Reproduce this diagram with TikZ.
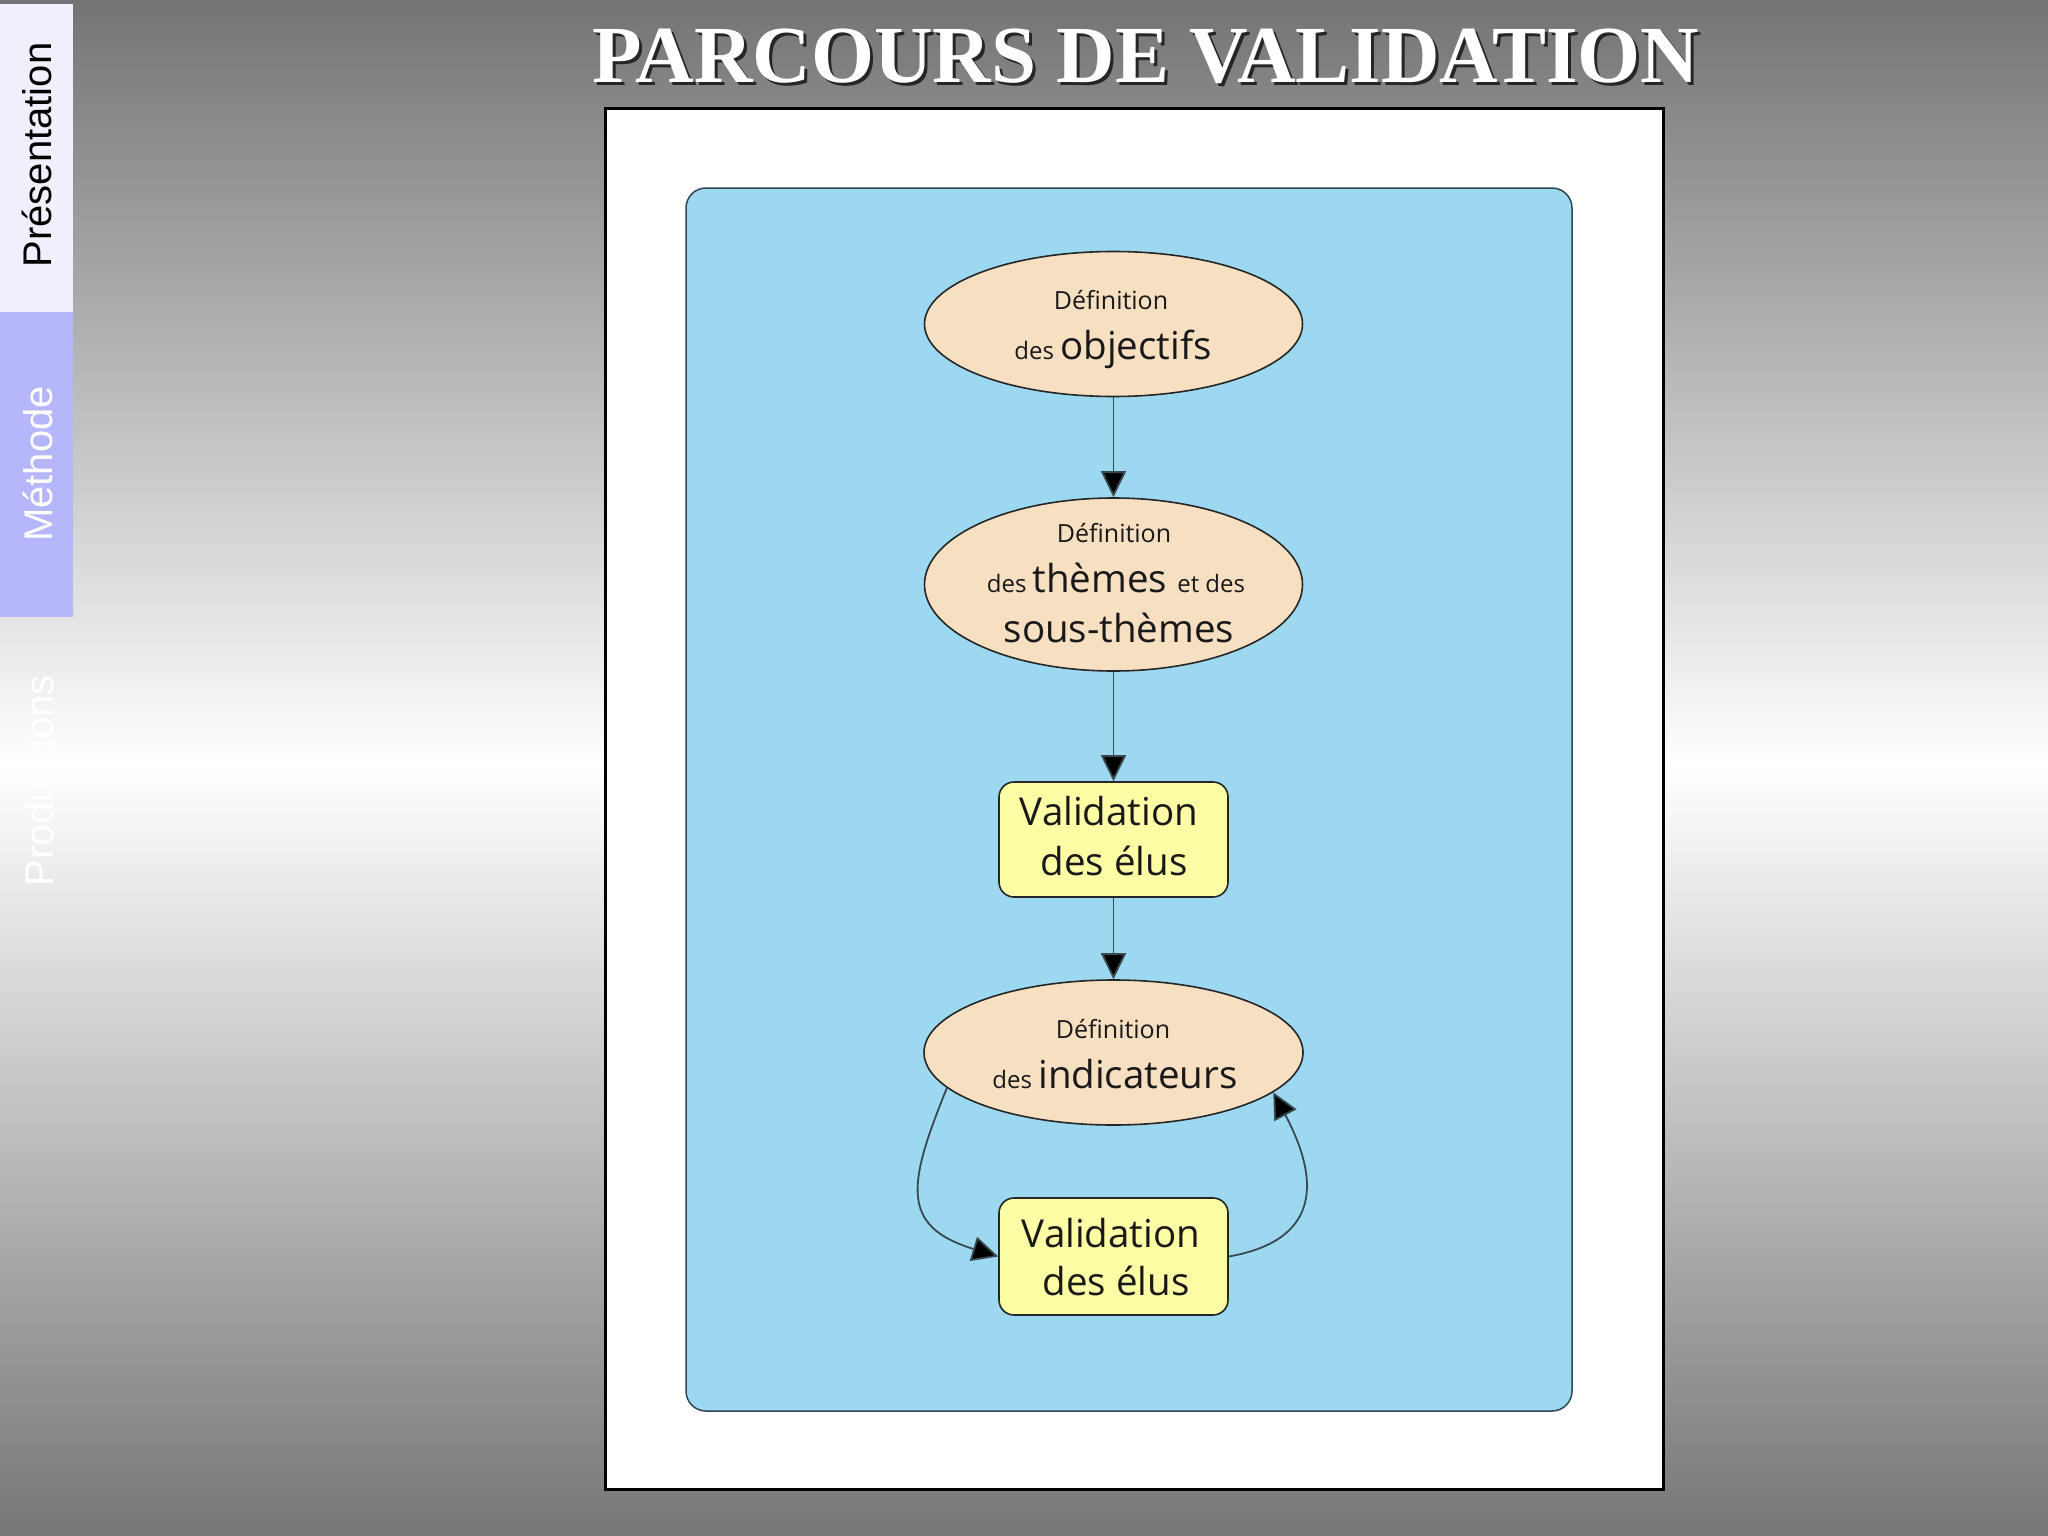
\documentclass[tikz,border=0pt]{standalone}
\usepackage{fontspec}
\usepackage{graphicx}
\setmainfont{Open Sans}
\newfontfamily\dgfont{Open Sans}
\newfontfamily\tabfont{Liberation Sans}
\newfontfamily\ttlfont{Liberation Serif}
\usetikzlibrary{arrows.meta,shapes.geometric}
\definecolor{bgtop}{HTML}{747474}
\definecolor{bgbot}{HTML}{767676}
\definecolor{tabA}{HTML}{F1EFFB}
\definecolor{tabB}{HTML}{B6B6FB}
\definecolor{panel}{HTML}{9CD9F1}
\definecolor{panelline}{HTML}{2E4653}
\definecolor{peach}{HTML}{F7DFC1}
\definecolor{lemon}{HTML}{FDFDA5}
\definecolor{conn}{HTML}{3A4850}
\newcommand{\dgbig}{\fontsize{38.5}{40}\selectfont}
\newcommand{\dgsmall}{\fontsize{24}{26}\selectfont}
\newcommand{\dgdef}{\fontsize{25}{27}\selectfont}
\tikzset{
  ovalbox/.style={ellipse, draw=black!85, line width=1.6pt, fill=peach, inner sep=0pt},
  valbox/.style={rectangle, rounded corners=15pt, draw=black!85, line width=1.6pt, fill=lemon, inner sep=0pt, minimum width=229pt},
  lbl/.style={anchor=base, inner sep=0pt, text=black!90, font=\dgfont},
  tabtext/.style={anchor=base, rotate=90, inner sep=0pt, font=\tabfont\fontsize{40}{40}\selectfont},
  ttl/.style={anchor=base, inner sep=0pt, font=\ttlfont\bfseries\fontsize{81}{81}\selectfont},
  arr/.style={draw=conn, line width=1.8pt, -{Triangle[length=26pt,width=25pt,fill=black]}},
}
\begin{document}
\begin{tikzpicture}[x=1pt,y=-1pt]
\useasboundingbox (0,0) rectangle (2048,1536);
% background
\shade[top color=bgtop, bottom color=white] (0,0) rectangle (2048,765);
\shade[top color=white, bottom color=bgbot] (0,765) rectangle (2048,1536);
% side tabs
\fill[tabA] (0,4) rectangle (73,312);
\fill[tabB] (0,312) rectangle (73,617);
\node[tabtext, text=black] (tpres) at (51,155) {Présentation};
\node[tabtext, text=white] (tmeth) at (52,464) {Méthode};
\node[tabtext, text=white] (tprod) at (53,781) {Productions};
% title
\node[ttl, text=black!85] (ttlshadow) at (1149,86) {PARCOURS DE VALIDATION};
\node[ttl, text=white] (ttl) at (1146,83) {PARCOURS DE VALIDATION};
% frame and panel
\draw[black, line width=3pt, fill=white] (605,109) rectangle (1663,1489);
\draw[panelline, line width=1.5pt, fill=panel, rounded corners=20pt] (686,188) rectangle (1572,1411);
% shapes
\node[ovalbox, minimum width=378pt, minimum height=145pt] (e1) at (1113.5,324) {};
\node[ovalbox, minimum width=378pt, minimum height=173pt] (e2) at (1113.5,584.5) {};
\node[valbox, minimum height=115pt] (b1) at (1113.5,839.5) {};
\node[ovalbox, minimum width=379pt, minimum height=145pt] (e3) at (1113.5,1052.5) {};
\node[valbox, minimum height=117pt] (b2) at (1113.5,1256.5) {};
% texts
\node[lbl] (e1a) at (1111,309) {\dgdef Définition};
\node[lbl] (e1b) at (1113,359) {\dgsmall des \dgbig objectifs};
\node[lbl] (e2a) at (1114,542) {\dgdef Définition};
\node[lbl] (e2b) at (1116,592) {\dgsmall des \dgbig thèmes \dgsmall et des};
\node[lbl] (e2c) at (1119,642) {\dgbig sous-thèmes};
\node[lbl] (b1a) at (1109,825) {\dgbig Validation};
\node[lbl] (b1b) at (1114,875) {\dgbig des élus};
\node[lbl] (e3a) at (1113,1038) {\dgdef Définition};
\node[lbl] (e3b) at (1115,1088) {\dgsmall des \dgbig indicateurs};
\node[lbl] (b2a) at (1111,1247) {\dgbig Validation};
\node[lbl] (b2b) at (1116,1295) {\dgbig des élus};
% connectors
\draw[arr] (e1) -- (e2);
\draw[arr] (e2) -- (b1);
\draw[arr] (b1) -- (e3);
\draw[arr] (e3.192) to[out=248, in=163, looseness=1.5] (b2.west);
\draw[arr] (b2.east) to[out=10, in=-62, looseness=1.45] (e3.346);
\end{tikzpicture}
\end{document}
